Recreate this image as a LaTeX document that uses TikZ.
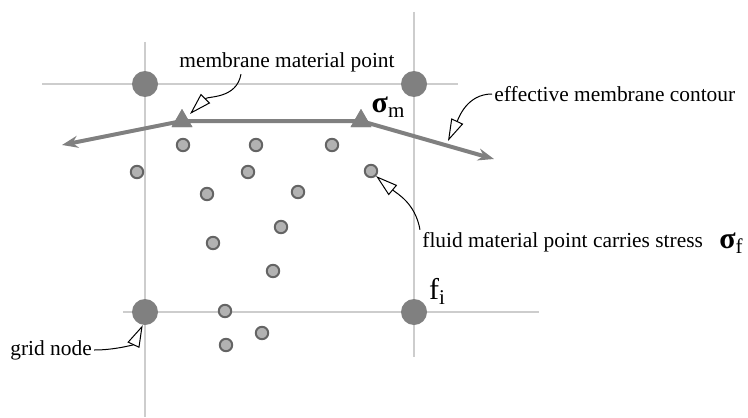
\documentclass[tikz,border=0pt]{standalone}
\usepackage{fontspec}
\setmainfont{Liberation Serif}
\usepackage{xcolor}
\definecolor{gridline}{RGB}{205,205,205}
\definecolor{nodegray}{RGB}{128,128,128}
\definecolor{fluidfill}{RGB}{178,178,178}
\definecolor{fluiddraw}{RGB}{100,100,100}
\usetikzlibrary{arrows.meta,positioning,shapes.geometric}
\tikzset{
  gridnode/.style={circle, fill=nodegray, inner sep=0pt, minimum size=13pt},
  fluidpt/.style={circle, fill=fluidfill, draw=fluiddraw, line width=1pt, inner sep=0pt, minimum size=6.2pt},
  membpt/.style={regular polygon, regular polygon sides=3, fill=nodegray, inner sep=0pt, minimum size=12pt},
  callout/.style={black, line width=0.5pt, -{Triangle[open, length=11pt, width=6.5pt]}},
  lbl/.style={font=\fontsize{10.7}{12}\selectfont, inner sep=1pt},
}
\newcommand{\symlbl}[2]{{\fontsize{15}{15}\selectfont #1}\raisebox{-2.5pt}{\fontsize{10.5}{11}\selectfont #2}}

\begin{document}
\begin{tikzpicture}[x=0.5pt, y=-0.5pt]
    \useasboundingbox (0,0) rectangle (748,417);

    % background grid lines
    \draw[gridline, line width=1pt] (42,84) -- (458,84);
    \draw[gridline, line width=1pt] (123,312) -- (539,312);
    \draw[gridline, line width=1pt] (145,42) -- (145,417);
    \draw[gridline, line width=1pt] (414,12) -- (414,357);

    % grid nodes
    \node[gridnode] (g1) at (145,84) {};
    \node[gridnode] (g2) at (414,84) {};
    \node[gridnode] (g3) at (145,312) {};
    \node[gridnode] (g4) at (414,312) {};

    % fluid material points
    \foreach \x/\y [count=\i] in {183/145, 256/145, 332/145, 137/172, 248/172,
        371/171, 207/194, 298/192, 281/227, 213/243, 273/271, 225/311, 262/333, 226/345}
      \node[fluidpt] (f\i) at (\x,\y) {};

    % membrane contour
    \coordinate (lend) at (62,145);
    \coordinate (rend) at (494,159);
    \node[membpt] (mp1) at (182,121) {};
    \node[membpt] (mp2) at (361,121) {};
    \draw[nodegray, line width=2pt, {Stealth[length=8pt, width=6pt]}-{Stealth[length=8pt, width=6pt]}]
      (lend) -- (mp1.center) -- (mp2.center) -- (rend);
    \node[membpt] at (mp1) {};
    \node[membpt] at (mp2) {};

    % labels
    \node[lbl] (lblmemb) at (287,62) {membrane material point};
    \node[lbl, anchor=west] (lbleff) at (492,94) {effective membrane contour};
    \node[lbl, anchor=west] (lblfluid) at (420,242) {fluid material point carries stress};
    \node[lbl, anchor=west] (lblgrid) at (8,350) {grid node};
    \node[inner sep=0pt] (sigm) at (388,107) {\symlbl{\bfseries σ}{m}};
    \node[inner sep=0pt] (sigf) at (731,243) {\symlbl{\bfseries σ}{f}};
    \node[inner sep=0pt] (fi) at (437,291) {\symlbl{f}{i}};

    % callouts
    \draw[callout] ([xshift=-23pt]lblmemb.south) to[out=260, in=45] ([shift={(8,-7)}]mp1.center);
    \draw[callout] (lbleff.west) to[out=180, in=65] (448,141);
    \draw[callout] (lblfluid.north west) to[out=100, in=-40] (f6.south east);
    \draw[callout] (lblgrid.east) to[out=0, in=245] (g3.-100);
\end{tikzpicture}
\end{document}
